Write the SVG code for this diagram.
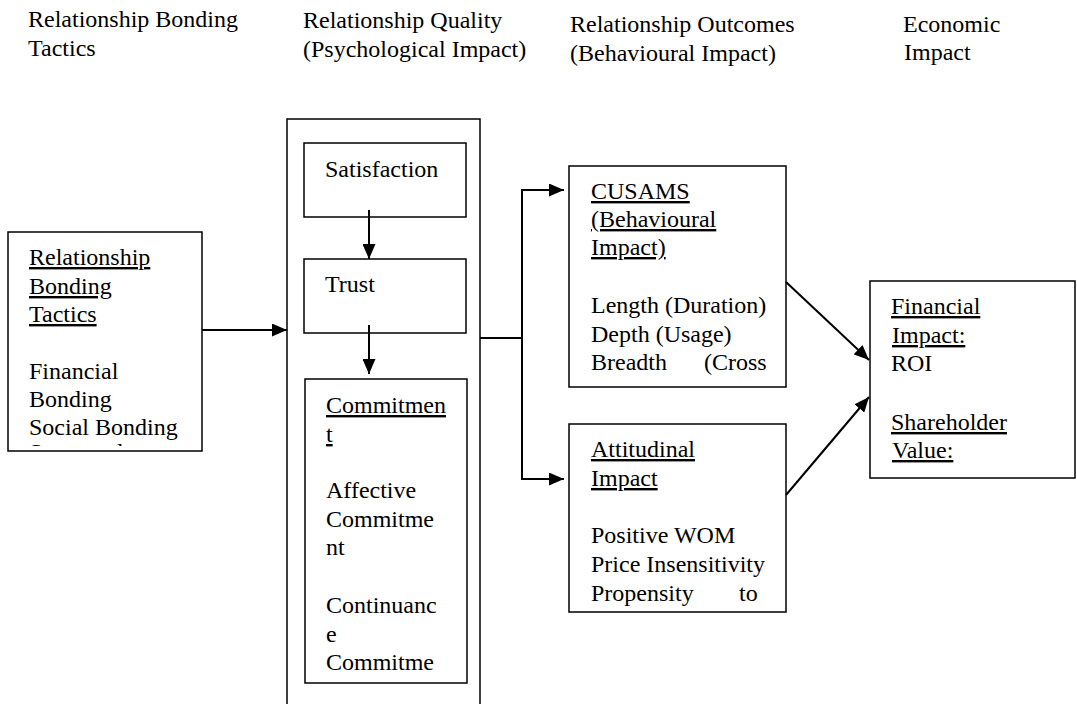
<svg xmlns="http://www.w3.org/2000/svg" width="1077" height="704" viewBox="0 0 1077 704">
<style>
text { font-family: "Liberation Serif", "Times New Roman", "DejaVu Serif", serif; font-size: 24px; fill: #000; }
.u { text-decoration: underline; }
.box { fill: #fff; stroke: #000; stroke-width: 1.5; }
.conn { fill: none; stroke: #000; stroke-width: 2; }
.arr { marker-end: url(#ah); }
</style>
<defs>
<marker id="ah" markerUnits="userSpaceOnUse" markerWidth="16" markerHeight="13" refX="15" refY="6.5" orient="auto">
<path d="M0,0 L15,6.5 L0,13 z" fill="#000"/>
</marker>
<clipPath id="clipLeft"><rect x="8" y="442" width="194" height="4"/></clipPath>
</defs>

<g id="headers">
<text x="28" y="27">Relationship Bonding</text>
<text x="28" y="56">Tactics</text>
<text x="303" y="28">Relationship Quality</text>
<text x="303" y="57">(Psychological Impact)</text>
<text x="570" y="32">Relationship Outcomes</text>
<text x="570" y="61">(Behavioural Impact)</text>
<text x="903" y="32">Economic</text>
<text x="904" y="60">Impact</text>
</g>

<g id="bonding-tactics">
<rect class="box" x="8" y="232" width="194" height="219"/>
<text class="u" x="29" y="265">Relationship</text>
<text class="u" x="29" y="294">Bonding</text>
<text class="u" x="29" y="322">Tactics</text>
<text x="29" y="379">Financial</text>
<text x="29" y="407">Bonding</text>
<text x="29" y="435">Social Bonding</text>
<text x="29" y="460" clip-path="url(#clipLeft)">Structural</text>
</g>

<g id="relationship-quality">
<rect class="box" x="287" y="119" width="193" height="600"/>
</g>

<g id="satisfaction">
<rect class="box" x="304" y="143" width="162" height="74"/>
<text x="325" y="177">Satisfaction</text>
</g>

<g id="trust">
<rect class="box" x="304" y="259" width="162" height="74"/>
<text x="325" y="292">Trust</text>
</g>

<g id="commitment">
<rect class="box" x="305" y="379" width="162" height="304"/>
<text class="u" x="326" y="413">Commitmen</text>
<text class="u" x="326" y="442">t</text>
<text x="326" y="498">Affective</text>
<text x="326" y="527">Commitme</text>
<text x="326" y="555">nt</text>
<text x="326" y="613">Continuanc</text>
<text x="326" y="642">e</text>
<text x="326" y="670">Commitme</text>
</g>

<g id="cusams">
<rect class="box" x="569" y="166" width="217" height="221"/>
<text class="u" x="591" y="199">CUSAMS</text>
<text class="u" x="591" y="227">(Behavioural</text>
<text class="u" x="591" y="255">Impact)</text>
<text x="591" y="313">Length (Duration)</text>
<text x="591" y="342">Depth (Usage)</text>
<text x="591" y="370">Breadth</text>
<text x="704" y="370">(Cross</text>
</g>

<g id="attitudinal">
<rect class="box" x="569" y="424" width="217" height="188"/>
<text class="u" x="591" y="457">Attitudinal</text>
<text class="u" x="591" y="486">Impact</text>
<text x="591" y="543">Positive WOM</text>
<text x="591" y="572">Price Insensitivity</text>
<text x="591" y="601">Propensity</text>
<text x="739" y="601">to</text>
</g>

<g id="financial">
<rect class="box" x="870" y="281" width="205" height="197"/>
<text class="u" x="891" y="314">Financial</text>
<text class="u" x="892" y="343">Impact:</text>
<text x="891" y="371">ROI</text>
<text class="u" x="891" y="430">Shareholder</text>
<text class="u" x="892" y="458">Value:</text>
</g>

<g id="connectors">
<line class="conn arr" x1="202" y1="330" x2="287" y2="330"/>
<line class="conn arr" x1="369" y1="210" x2="369" y2="259"/>
<line class="conn arr" x1="369" y1="325" x2="369" y2="374"/>
<polyline class="conn" points="480,338 522,338"/>
<polyline class="conn arr" points="522,338 522,190 564,190"/>
<polyline class="conn arr" points="522,338 522,479 564,479"/>
<line class="conn arr" x1="786" y1="282" x2="869" y2="360"/>
<line class="conn arr" x1="786" y1="495" x2="869" y2="397"/>
</g>
</svg>
